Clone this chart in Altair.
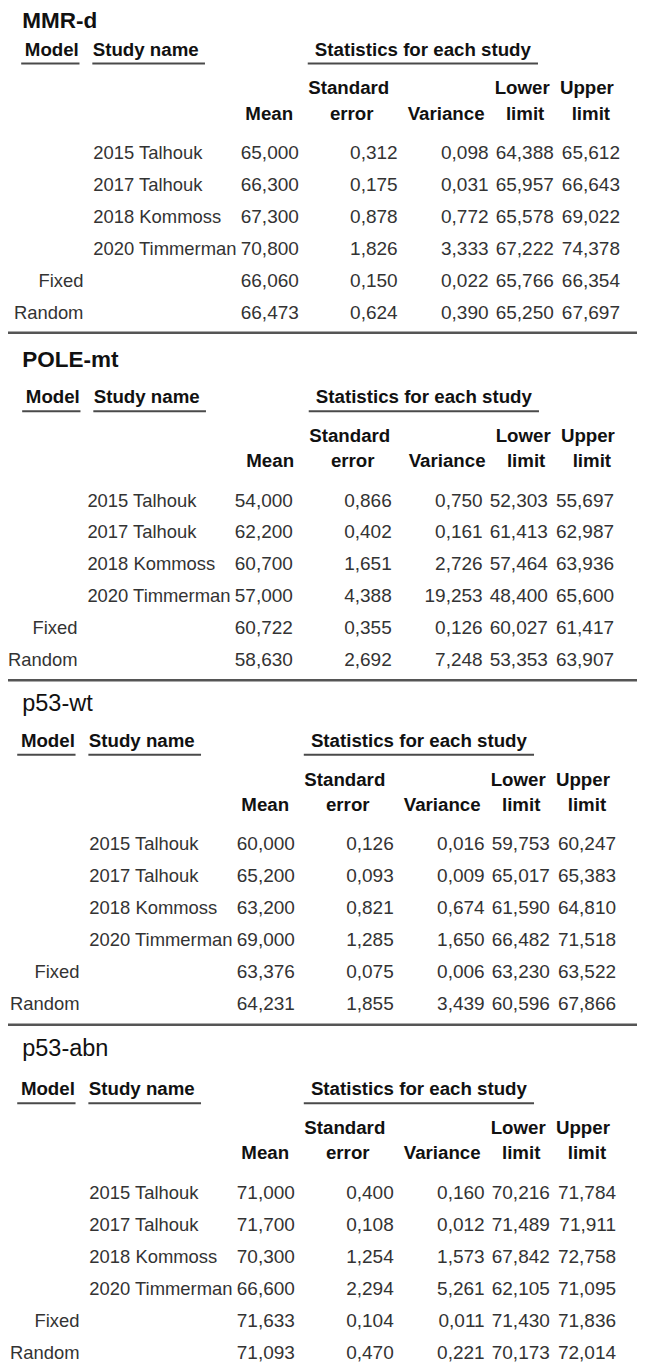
import altair as alt
import pandas as pd

# ---------------- data ----------------
panel_titles = ["MMR-d", "POLE-mt", "p53-wt", "p53-abn"]
title_bold = [True, True, False, False]
model_labels = ["", "", "", "", "Fixed", "Random"]
study_names = ["2015 Talhouk", "2017 Talhouk", "2018 Kommoss", "2020 Timmerman", "", ""]
group_headers = ["Model", "Study name", "Statistics for each study"]
stat_header_top = ["", "Standard", "", "Lower", "Upper"]
stat_header_bottom = ["Mean", "error", "Variance", "limit", "limit"]

mmr_mean = [65.000, 66.300, 67.300, 70.800, 66.060, 66.473]
mmr_se = [0.312, 0.175, 0.878, 1.826, 0.150, 0.624]
mmr_var = [0.098, 0.031, 0.772, 3.333, 0.022, 0.390]
mmr_lower = [64.388, 65.957, 65.578, 67.222, 65.766, 65.250]
mmr_upper = [65.612, 66.643, 69.022, 74.378, 66.354, 67.697]

pole_mean = [54.000, 62.200, 60.700, 57.000, 60.722, 58.630]
pole_se = [0.866, 0.402, 1.651, 4.388, 0.355, 2.692]
pole_var = [0.750, 0.161, 2.726, 19.253, 0.126, 7.248]
pole_lower = [52.303, 61.413, 57.464, 48.400, 60.027, 53.353]
pole_upper = [55.697, 62.987, 63.936, 65.600, 61.417, 63.907]

wt_mean = [60.000, 65.200, 63.200, 69.000, 63.376, 64.231]
wt_se = [0.126, 0.093, 0.821, 1.285, 0.075, 1.855]
wt_var = [0.016, 0.009, 0.674, 1.650, 0.006, 3.439]
wt_lower = [59.753, 65.017, 61.590, 66.482, 63.230, 60.596]
wt_upper = [60.247, 65.383, 64.810, 71.518, 63.522, 67.866]

abn_mean = [71.000, 71.700, 70.300, 66.600, 71.633, 71.093]
abn_se = [0.400, 0.108, 1.254, 2.294, 0.104, 0.470]
abn_var = [0.160, 0.012, 1.573, 5.261, 0.011, 0.221]
abn_lower = [70.216, 71.489, 67.842, 62.105, 71.430, 70.173]
abn_upper = [71.784, 71.911, 72.758, 71.095, 71.836, 72.014]

panel_stats = [
    [mmr_mean, mmr_se, mmr_var, mmr_lower, mmr_upper],
    [pole_mean, pole_se, pole_var, pole_lower, pole_upper],
    [wt_mean, wt_se, wt_var, wt_lower, wt_upper],
    [abn_mean, abn_se, abn_var, abn_lower, abn_upper],
]

# ---------------- layout (reference pixel units) ----------------
TITLE_X = 15
TITLE_Y = [19, 360, 707, 1054]
HEAD_Y = [48, 398, 744, 1095]
HEAD_DX = [0, 1, -4, -4]
DATA_DX = [0, -6, -4, -4]
SEP_Y = [333, 683, 1030]
ROW_STEP = 32.2
GROUP_HEAD_X = [45, 140, 420.5]
UNDERLINE_X = [(14, 73), (86, 200), (304, 537)]
STAT_TOP_X = [0, 345.5, 0, 521, 586.5]
STAT_BOTTOM_X = [265, 348.5, 444, 524, 590.5]
MODEL_RIGHT_X = 77
STUDY_LEFT_X = 87
STAT_RIGHT_X = [295, 395, 487, 553, 620]

FONT = "Liberation Sans, Arial, Helvetica, sans-serif"
FS_HEAD = 18.7
FS_NAME = 18.4
FS_NUM = 19


def fmt(v):
    return f"{v:.3f}".replace(".", ",")


titles, heads, lines, models, studies, nums = [], [], [], [], [], []
for p, name in enumerate(panel_titles):
    hy = HEAD_Y[p]
    hdx = HEAD_DX[p]
    ddx = DATA_DX[p]
    titles.append({"x": TITLE_X, "y": TITLE_Y[p], "text": name, "bold": title_bold[p]})
    for gx, gt in zip(GROUP_HEAD_X, group_headers):
        heads.append({"x": gx + hdx, "y": hy, "text": gt})
    for (a, b) in UNDERLINE_X:
        lines.append({"x": a + hdx, "x2": b + hdx, "y": hy + 14, "kind": "under"})
    for tx, tt in zip(STAT_TOP_X, stat_header_top):
        if tt:
            heads.append({"x": tx + hdx, "y": hy + 39, "text": tt})
    for bx, bt in zip(STAT_BOTTOM_X, stat_header_bottom):
        heads.append({"x": bx + hdx, "y": hy + 64.5, "text": bt})
    for r in range(6):
        ry = hy + 104 + r * ROW_STEP
        if model_labels[r]:
            models.append({"x": MODEL_RIGHT_X + ddx, "y": ry, "text": model_labels[r]})
        if study_names[r]:
            studies.append({"x": STUDY_LEFT_X + ddx, "y": ry, "text": study_names[r]})
        for c in range(5):
            nums.append({"x": STAT_RIGHT_X[c] + ddx, "y": ry,
                         "text": fmt(panel_stats[p][c][r])})
for sy in SEP_Y:
    lines.append({"x": 0, "x2": 645, "y": sy, "kind": "sep"})

titles_df = pd.DataFrame(titles)
heads_df = pd.DataFrame(heads)
lines_df = pd.DataFrame(lines)
models_df = pd.DataFrame(models)
studies_df = pd.DataFrame(studies)
nums_df = pd.DataFrame(nums)

XS = alt.Scale(domain=[0, 645], range=[-0.65, 636.7])
YS = alt.Scale(domain=[0, 1371], range=[-6, 1355.5])
xenc = alt.X("x:Q", scale=XS, axis=None)
yenc = alt.Y("y:Q", scale=YS, axis=None)

under = alt.Chart(lines_df[lines_df.kind == "under"]).mark_rule(
    color="#4a4a4a", strokeWidth=2
).encode(x=xenc, x2="x2:Q", y=yenc)

seps = alt.Chart(lines_df[lines_df.kind == "sep"]).mark_rule(
    color="#555555", strokeWidth=2.5
).encode(x=xenc, x2="x2:Q", y=yenc)

title_b = alt.Chart(titles_df[titles_df.bold]).mark_text(
    align="left", baseline="middle", font=FONT, fontSize=22.5, fontWeight="bold", color="#111111"
).encode(x=xenc, y=yenc, text="text:N")

title_n = alt.Chart(titles_df[~titles_df.bold]).mark_text(
    align="left", baseline="middle", font=FONT, fontSize=23.5, fontWeight="normal", color="#111111"
).encode(x=xenc, y=yenc, text="text:N")

head_t = alt.Chart(heads_df).mark_text(
    align="center", baseline="middle", font=FONT, fontSize=FS_HEAD, fontWeight="bold", color="#111111"
).encode(x=xenc, y=yenc, text="text:N")

model_t = alt.Chart(models_df).mark_text(
    align="right", baseline="middle", font=FONT, fontSize=FS_NAME, color="#333333"
).encode(x=xenc, y=yenc, text="text:N")

study_t = alt.Chart(studies_df).mark_text(
    align="left", baseline="middle", font=FONT, fontSize=FS_NAME, color="#333333"
).encode(x=xenc, y=yenc, text="text:N")

num_t = alt.Chart(nums_df).mark_text(
    align="right", baseline="middle", font=FONT, fontSize=FS_NUM, color="#333333"
).encode(x=xenc, y=yenc, text="text:N")

chart = alt.layer(
    seps, under, title_b, title_n, head_t, model_t, study_t, num_t
).properties(
    width=629, height=1354, padding=0,
    autosize=alt.AutoSizeParams(type="none"),
).configure_view(strokeWidth=0)

chart.save("out.html", embed_options={"renderer": "svg", "actions": False})
